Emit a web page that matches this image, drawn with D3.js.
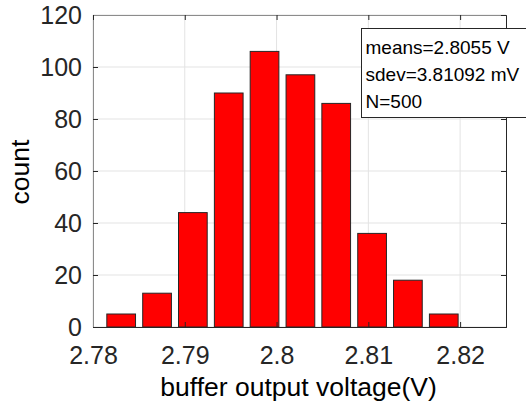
<!DOCTYPE html>
<html>
<head>
<meta charset="utf-8">
<script src="https://cdn.jsdelivr.net/npm/d3@7"></script>
<style>
  body { margin: 0; background: #fff; }
  text { font-family: Arial, 'Liberation Sans', Helvetica, sans-serif; fill: #262626; }
</style>
</head>
<body>
<div id="chart"></div>
<script>
// histogram bins (centre voltage) and counts
const binCenters = [2.78307, 2.78698, 2.79088, 2.79479, 2.79869, 2.8026, 2.8065, 2.81041, 2.81431, 2.81822]
const counts = [5, 13, 44, 90, 106, 97, 86, 36, 18, 5]
const xTicks = [2.78, 2.79, 2.8, 2.81, 2.82]
const yTicks = [0, 20, 40, 60, 80, 100, 120]
const statLines = ['means=2.8055 V', 'sdev=3.81092 mV', 'N=500']

const margin = { top: 15, left: 93, right: 20, bottom: 81 }
const width = 526 - margin.left - margin.right
const height = 408 - margin.top - margin.bottom

const svgRoot = d3.select('#chart')
  .append('svg')
  .attr('width', 526)
  .attr('height', 408)
const svg = svgRoot.append('g')
  .attr('transform', 'translate(' + margin.left + ',' + margin.top + ')')

const xPositionScale = d3.scaleLinear().domain([2.78, 2.825]).range([0, width])
const yPositionScale = d3.scaleLinear().domain([0, 120]).range([height, 0])

const binWidth = binCenters[1] - binCenters[0]
const barWidth = xPositionScale(binCenters[0] + binWidth * 0.4) - xPositionScale(binCenters[0] - binWidth * 0.4)

// grid
const grid = svg.append('g').attr('class', 'grid')
grid.selectAll('line.gx')
  .data(xTicks)
  .enter().append('line')
  .attr('class', 'gx')
  .attr('x1', d => xPositionScale(d))
  .attr('x2', d => xPositionScale(d))
  .attr('y1', 0)
  .attr('y2', height)
  .attr('stroke', '#e3e3e3')
grid.selectAll('line.gy')
  .data(yTicks)
  .enter().append('line')
  .attr('class', 'gy')
  .attr('x1', 0)
  .attr('x2', width)
  .attr('y1', d => yPositionScale(d))
  .attr('y2', d => yPositionScale(d))
  .attr('stroke', '#e3e3e3')

// bars
svg.selectAll('rect.bar')
  .data(counts)
  .enter().append('rect')
  .attr('class', 'bar')
  .attr('x', (d, i) => xPositionScale(binCenters[i]) - barWidth / 2)
  .attr('width', barWidth)
  .attr('y', d => yPositionScale(d))
  .attr('height', d => height - yPositionScale(d))
  .attr('fill', '#ff0000')
  .attr('stroke', '#262626')
  .attr('stroke-width', 1)

// axes
const xAxis = d3.axisBottom(xPositionScale).tickValues(xTicks).tickSize(-5).tickPadding(19).tickFormat(d => String(d))
const yAxis = d3.axisLeft(yPositionScale).tickValues(yTicks).tickSize(-5).tickPadding(11)
const xAxisTop = d3.axisTop(xPositionScale).tickValues(xTicks).tickSize(-5).tickFormat('')
const yAxisRight = d3.axisRight(yPositionScale).tickValues(yTicks).tickSize(-5).tickFormat('')

svg.append('g').attr('class', 'axis x-axis').attr('transform', 'translate(0,' + height + ')').call(xAxis)
svg.append('g').attr('class', 'axis y-axis').call(yAxis)
svg.append('g').attr('class', 'axis x-top').call(xAxisTop)
svg.append('g').attr('class', 'axis y-right').attr('transform', 'translate(' + width + ',0)').call(yAxisRight)

svg.selectAll('.axis line').attr('stroke', '#262626')
svg.selectAll('.x-axis .domain, .y-right .domain').attr('stroke', '#262626')
svg.selectAll('.y-axis .domain, .x-top .domain').attr('stroke', '#8c8c8c')
svg.selectAll('.axis text')
  .attr('font-size', 25)
  .attr('font-family', 'Arial, Liberation Sans, sans-serif')
  .attr('fill', '#262626')
svg.selectAll('.x-axis text').attr('dy', '0.71em')
svg.selectAll('.y-axis text').attr('dy', '0.34em')

// axis labels
svg.append('text')
  .attr('x', xPositionScale(2.8) + 22)
  .attr('y', height + 69)
  .attr('text-anchor', 'middle')
  .attr('font-size', 26.5)
  .style('fill', '#000')
  .text('buffer output voltage(V)')

svg.append('text')
  .attr('transform', 'translate(' + (-64) + ',' + (height / 2 + 1) + ') rotate(-90)')
  .attr('text-anchor', 'middle')
  .attr('font-size', 26.5)
  .style('fill', '#000')
  .text('count')

// stats box
const box = svgRoot.append('g').attr('transform', 'translate(361.5,28.5)')
box.append('rect')
  .attr('width', 180)
  .attr('height', 89)
  .attr('fill', '#fff')
  .attr('stroke', '#262626')
box.selectAll('text')
  .data(statLines)
  .enter().append('text')
  .attr('x', 4)
  .attr('y', (d, i) => 25 + i * 27)
  .attr('font-size', 19)
  .style('fill', '#000')
  .text(d => d)
</script>
</body>
</html>
